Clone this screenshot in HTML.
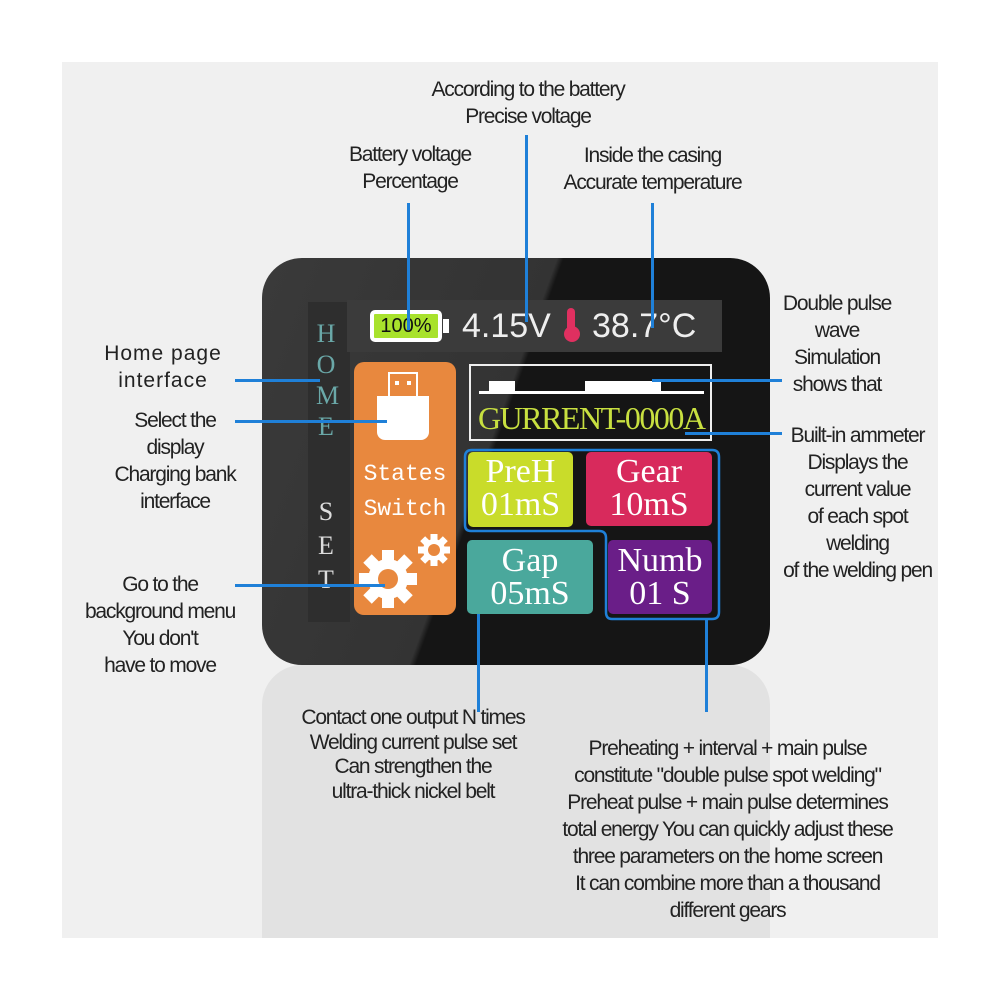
<!DOCTYPE html><html><head><style>
body{margin:0;width:1000px;height:1000px;background:#fff;position:relative;overflow:hidden;font-family:"Liberation Sans",sans-serif}
div{position:absolute;box-sizing:border-box}
.t{color:#222;font-size:21px;text-align:center;line-height:27px;letter-spacing:-1.2px;white-space:nowrap}
.bl{background:#1f80d8}
.m{font-family:"Liberation Serif",serif;color:#fff;text-align:center;line-height:33px;font-size:34px}
</style></head><body>
<div style="left:62px;top:62px;width:876px;height:876px;background:#f0f0f0"></div>
<div style="left:262px;top:665px;width:508px;height:273px;background:#e2e2e2;border-radius:40px 40px 0 0"></div>
<div style="left:262px;top:258px;width:508px;height:407px;background:linear-gradient(110deg,#3a3a3a 0%,#333 45%,#151515 46%,#151515 100%);border-radius:40px"></div>
<div style="left:308px;top:302px;width:42px;height:320px;background:#2e2e2e"></div>
<div style="left:347px;top:300px;width:375px;height:52px;background:#3b3b3b"></div>
<div style="left:370px;top:310px;width:72px;height:32px;background:#a8e22c;border:4px solid #fff;border-radius:5px;font-size:20px;line-height:24px;text-align:center;color:#111">100%</div>
<div style="left:443px;top:319px;width:6px;height:14px;background:#fff"></div>
<div style="left:462px;top:306px;font-size:34px;color:#eee;line-height:40px">4.15V</div>
<div style="left:567px;top:308px;width:8px;height:24px;background:#e03060;border-radius:4px"></div>
<div style="left:564px;top:326px;width:16px;height:16px;background:#e03060;border-radius:50%"></div>
<div style="left:592px;top:306px;font-size:34px;color:#eee;line-height:40px">38.7°C</div>
<div style="left:316px;top:318px;width:20px;font-family:'Liberation Serif',serif;font-size:26px;line-height:31px;color:#6aa8a8;text-align:center">H<br>O<br>M<br>E</div>
<div style="left:316px;top:495px;width:20px;font-family:'Liberation Serif',serif;font-size:26px;line-height:34px;color:#ddd;text-align:center">S<br>E<br>T</div>
<div style="left:354px;top:362px;width:102px;height:253px;background:#e8883e;border-radius:10px"></div>
<div style="left:388px;top:372px;width:30px;height:26px;border:2px solid #fff;border-bottom:none"></div>
<div style="left:395px;top:381px;width:4px;height:4px;background:#fff"></div>
<div style="left:407px;top:381px;width:4px;height:4px;background:#fff"></div>
<div style="left:377px;top:396px;width:52px;height:44px;background:#fff;border-radius:0 0 8px 8px"></div>
<div style="left:354px;top:457px;width:102px;font-family:'Liberation Mono',monospace;font-size:23px;line-height:35px;color:#fff;text-align:center">States<br>Switch</div>
<svg style="position:absolute;left:0;top:0" width="1000" height="1000">
<g fill="#fff">
<g transform="translate(388,579)">
<circle r="20"/>
<g id="tk"><rect x="-6" y="-29" width="12" height="12"/><rect x="-6" y="17" width="12" height="12"/><rect x="-29" y="-6" width="12" height="12"/><rect x="17" y="-6" width="12" height="12"/></g>
<use href="#tk" transform="rotate(45)"/>
</g>
<circle cx="388" cy="579" r="10" fill="#e8883e"/>
<g transform="translate(434,550)">
<circle r="11"/>
<g id="tk2"><rect x="-3.5" y="-16" width="7" height="8"/><rect x="-3.5" y="8" width="7" height="8"/><rect x="-16" y="-3.5" width="8" height="7"/><rect x="8" y="-3.5" width="8" height="7"/></g>
<use href="#tk2" transform="rotate(45)"/>
</g>
<circle cx="434" cy="550" r="6" fill="#e8883e"/>
</g>
<path d="M472 450 H712 Q719 450 719 457 V612 Q719 619 712 619 H612 Q606 619 606 612 V538 Q606 531 599 531 H471 Q465 531 465 525 V457 Q465 450 472 450Z" fill="none" stroke="#1f80d8" stroke-width="2.5"/>
</svg>
<div style="left:469px;top:364px;width:243px;height:77px;border:2px solid #eee"></div>
<div style="left:479px;top:391px;width:225px;height:3px;background:#fff"></div>
<div style="left:489px;top:381px;width:26px;height:11px;background:#fff"></div>
<div style="left:585px;top:381px;width:76px;height:11px;background:#fff"></div>
<div style="left:478px;top:400px;font-family:'Liberation Serif',serif;font-size:32px;color:#c8e040;line-height:36px;letter-spacing:-1.5px">GURRENT-0000A</div>
<div class="m" style="left:468px;top:452px;width:105px;height:75px;background:#c9dc2a;border-radius:5px;padding-top:3px">PreH<br>01mS</div>
<div class="m" style="left:586px;top:452px;width:126px;height:74px;background:#d82a5c;border-radius:5px;padding-top:3px">Gear<br>10mS</div>
<div class="m" style="left:467px;top:540px;width:126px;height:74px;background:#4aa89c;border-radius:5px;padding-top:4px">Gap<br>05mS</div>
<div class="m" style="left:608px;top:540px;width:104px;height:74px;background:#6a1e88;border-radius:5px;padding-top:4px">Numb<br>01 S</div>
<div class="bl" style="left:407px;top:203px;width:3px;height:127px"></div>
<div class="bl" style="left:525px;top:135px;width:3px;height:187px"></div>
<div class="bl" style="left:651px;top:203px;width:3px;height:125px"></div>
<div class="bl" style="left:235px;top:379px;width:85px;height:3px"></div>
<div class="bl" style="left:235px;top:420px;width:152px;height:3px"></div>
<div class="bl" style="left:235px;top:584px;width:150px;height:3px"></div>
<div class="bl" style="left:652px;top:379px;width:130px;height:3px"></div>
<div class="bl" style="left:685px;top:432px;width:97px;height:3px"></div>
<div class="bl" style="left:477px;top:614px;width:3px;height:98px"></div>
<div class="bl" style="left:705px;top:619px;width:3px;height:93px"></div>
<div class="t" style="left:378px;top:76px;width:300px">According to the battery<br>Precise voltage</div>
<div class="t" style="left:310px;top:141px;width:200px">Battery voltage<br>Percentage</div>
<div class="t" style="left:540px;top:142px;width:225px">Inside the casing<br>Accurate temperature</div>
<div class="t" style="left:88px;top:340px;width:150px;letter-spacing:1px">Home page<br>interface</div>
<div class="t" style="left:90px;top:407px;width:170px">Select the<br>display<br>Charging bank<br>interface</div>
<div class="t" style="left:60px;top:571px;width:200px">Go to the<br>background menu<br>You don't<br>have to move</div>
<div class="t" style="left:757px;top:290px;width:160px">Double pulse<br>wave<br>Simulation<br>shows that</div>
<div class="t" style="left:770px;top:422px;width:175px">Built-in ammeter<br>Displays the<br>current value<br>of each spot<br>welding<br>of the welding pen</div>
<div class="t" style="left:273px;top:706px;width:280px;line-height:24.5px">Contact one output N times<br>Welding current pulse set<br>Can strengthen the<br>ultra-thick nickel belt</div>
<div class="t" style="left:520px;top:735px;width:415px">Preheating + interval + main pulse<br>constitute "double pulse spot welding"<br>Preheat pulse + main pulse determines<br>total energy You can quickly adjust these<br>three parameters on the home screen<br>It can combine more than a thousand<br>different gears</div>
</body></html>
